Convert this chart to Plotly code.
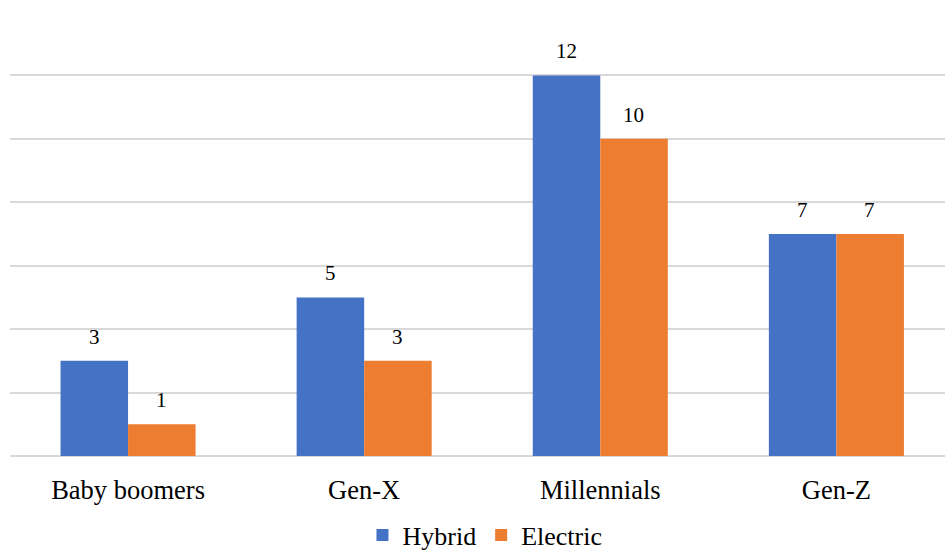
import plotly.graph_objects as go

# Vehicle preference by generation
categories = ["Baby boomers", "Gen-X", "Millennials", "Gen-Z"]
hybrid = [3, 5, 12, 7]
electric = [1, 3, 10, 7]

BLUE = "#4472C4"
ORANGE = "#ED7D31"
FONT = "Liberation Serif"

fig = go.Figure()
fig.add_trace(go.Bar(name="Hybrid", x=categories, y=hybrid, marker=dict(color=BLUE, line=dict(width=0))))
fig.add_trace(go.Bar(name="Electric", x=categories, y=electric, marker=dict(color=ORANGE, line=dict(width=0))))

# value labels floating above each bar
half = 33.5
for series, offset in ((hybrid, -half), (electric, half)):
    for cat, val in zip(categories, series):
        fig.add_annotation(
            x=cat, y=val, text=str(val), showarrow=False,
            xshift=offset, yshift=24, yanchor="middle",
            font=dict(family=FONT, size=21, color="#000000"),
        )

fig.update_layout(
    width=945, height=554,
    margin=dict(l=10, r=0, t=12, b=98, autoexpand=False),
    paper_bgcolor="white", plot_bgcolor="white",
    barmode="group", bargap=0.428, bargroupgap=0,
    font=dict(family=FONT, color="#000000"),
    showlegend=True,
    legend=dict(
        orientation="h", x=0.508, xanchor="center",
        yref="container", y=0.034, yanchor="middle",
        font=dict(family=FONT, size=26, color="#000000"),
        itemsizing="constant", traceorder="normal",
    ),
)
fig.update_xaxes(
    range=[-0.5, 3.46], showgrid=False, showline=False, ticks="",
    tickfont=dict(family=FONT, size=26.5, color="#000000"),
    ticklabelstandoff=15, automargin=False,
)
fig.update_yaxes(
    range=[0, 14], dtick=2, showticklabels=False,
    showgrid=True, gridcolor="#d9d9d9", gridwidth=1.5,
    zeroline=True, zerolinecolor="#d9d9d9", zerolinewidth=1.5,
)

fig.write_html("out.html")
